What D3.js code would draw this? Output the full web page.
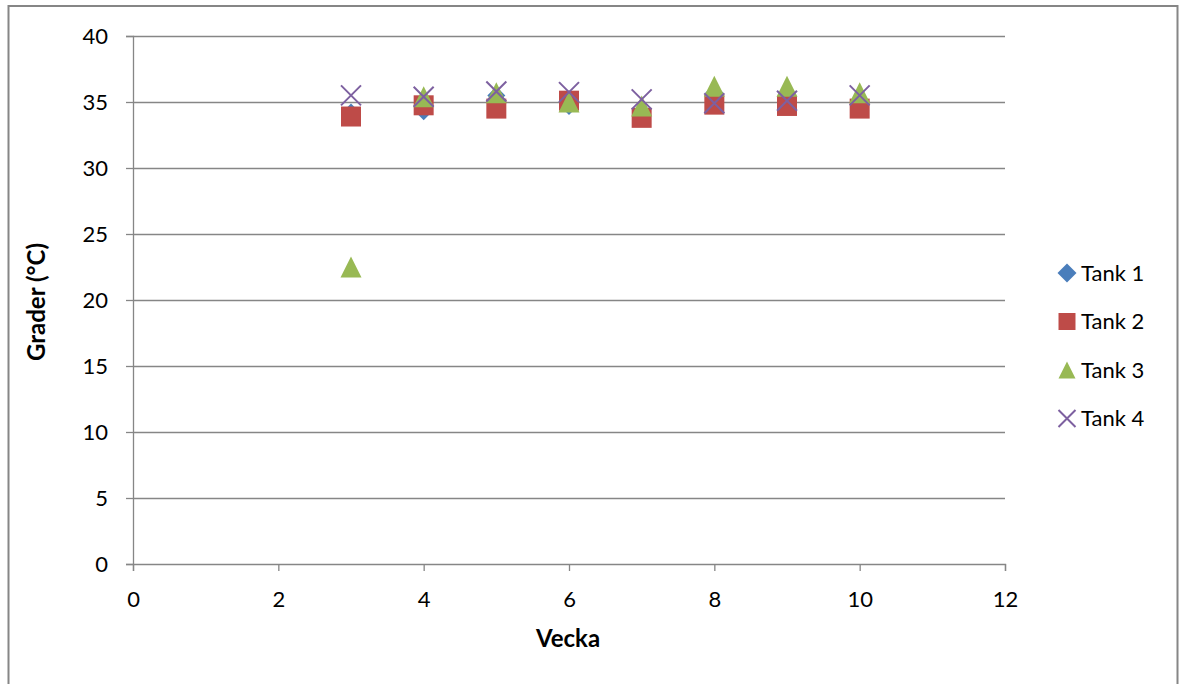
<!DOCTYPE html>
<html>
<head>
<meta charset="utf-8">
<script src="https://cdn.jsdelivr.net/npm/d3@7"></script>
<style>
  html, body { margin: 0; padding: 0; background: #fff; }
  svg { display: block; font-family: Lato, "Open Sans", sans-serif; }
</style>
</head>
<body>
<svg id="chart" width="1179" height="684"></svg>
<script>
// Weekly temperature per tank
const weeks = [3, 4, 5, 6, 7, 8, 9, 10];
const tank1 = [34.2, 34.3, 35.5, 34.7, 34.0, 35.7, 34.9, 35.0];
const tank2 = [33.9, 34.75, 34.5, 35.1, 33.8, 34.8, 34.7, 34.5];
const tank3 = [22.5, 35.4, 35.7, 35.0, 34.7, 36.2, 36.2, 35.7];
const tank4 = [35.5, 35.4, 35.8, 35.75, 35.2, 34.9, 35.1, 35.5];
const seriesNames = ["Tank 1", "Tank 2", "Tank 3", "Tank 4"];
const xTicks = [0, 2, 4, 6, 8, 10, 12];
const yTicks = [0, 5, 10, 15, 20, 25, 30, 35, 40];

const series = [
  { name: seriesNames[0], values: tank1, shape: "diamond", color: "#4a7ebb" },
  { name: seriesNames[1], values: tank2, shape: "square",  color: "#be4b48" },
  { name: seriesNames[2], values: tank3, shape: "triangle", color: "#98b954" },
  { name: seriesNames[3], values: tank4, shape: "cross",   color: "#7d60a0" }
];

const svg = d3.select("#chart");
const plotLeft = 133, plotRight = 1005, plotTop = 36, plotBottom = 564;
const x = d3.scaleLinear().domain([0, 12]).range([plotLeft, plotRight]);
const y = d3.scaleLinear().domain([0, 40]).range([plotBottom, plotTop]);
const gridColor = "#868686";
const fontSize = 22;

// outer chart border
svg.append("path")
  .attr("d", "M8.5,690 V6 H1177.5 V690")
  .attr("fill", "none").attr("stroke", gridColor).attr("stroke-width", 2);

// horizontal gridlines
svg.append("g").selectAll("line").data(yTicks.filter(d => d > 0)).join("line")
  .attr("x1", plotLeft).attr("x2", plotRight)
  .attr("y1", d => Math.round(y(d)) + 0.5).attr("y2", d => Math.round(y(d)) + 0.5)
  .attr("stroke", gridColor).attr("stroke-width", 1.3);

// axes
const yAxis = d3.axisLeft(y).tickValues(yTicks).tickSize(7).tickPadding(18);
const xAxis = d3.axisBottom(x).tickValues(xTicks).tickSize(7).tickPadding(20);

const gy = svg.append("g").attr("transform", `translate(${plotLeft},0)`).call(yAxis);
const gx = svg.append("g").attr("transform", `translate(0,${plotBottom})`).call(xAxis);
[gx, gy].forEach(g => {
  g.select(".domain").attr("stroke", gridColor).attr("stroke-width", 1.3);
  g.selectAll(".tick line").attr("stroke", gridColor).attr("stroke-width", 1.3);
  g.selectAll(".tick text").attr("fill", "#000").attr("font-size", fontSize)
    .attr("font-family", "Lato, 'Open Sans', sans-serif");
});

// axis titles
svg.append("text").attr("x", 568).attr("y", 647).attr("text-anchor", "middle")
  .attr("font-size", 24).attr("font-weight", "bold").text("Vecka");
svg.append("text")
  .attr("transform", `translate(45,${(plotTop + plotBottom) / 2 + 2}) rotate(-90)`)
  .attr("text-anchor", "middle")
  .attr("font-size", 24).attr("font-weight", "bold").text("Grader (°C)");

// marker shapes
function markerPath(shape, s) {
  const h = s / 2;
  switch (shape) {
    case "diamond": return `M0,${-h} L${h},0 L0,${h} L${-h},0 Z`;
    case "square": return `M${-h},${-h} H${h} V${h} H${-h} Z`;
    case "triangle": return `M0,${-h} L${h},${h} L${-h},${h} Z`;
    case "cross": return `M${-h},${-h} L${h},${h} M${h},${-h} L${-h},${h}`;
  }
}
const markerSize = { diamond: 18, square: 20, triangle: 21, cross: 20 };

function drawMarker(g, s, cx, cy, size) {
  const p = g.append("path")
    .attr("transform", `translate(${cx},${cy})`)
    .attr("d", markerPath(s.shape, size));
  if (s.shape === "cross") {
    p.attr("fill", "none").attr("stroke", s.color).attr("stroke-width", 2);
  } else {
    p.attr("fill", s.color);
  }
}

const plot = svg.append("g");
series.forEach(s => {
  const g = plot.append("g");
  s.values.forEach((v, i) => drawMarker(g, s, x(weeks[i]), y(v), markerSize[s.shape]));
});

// legend
const legend = svg.append("g");
series.forEach((s, i) => {
  const ly = 273 + i * 48.5;
  drawMarker(legend, s, 1067, ly, s.shape === "diamond" ? 19 : 17);
  legend.append("text").attr("x", 1081).attr("y", ly).attr("dy", "0.36em")
    .attr("font-size", fontSize).attr("fill", "#000").text(s.name);
});
</script>
</body>
</html>
